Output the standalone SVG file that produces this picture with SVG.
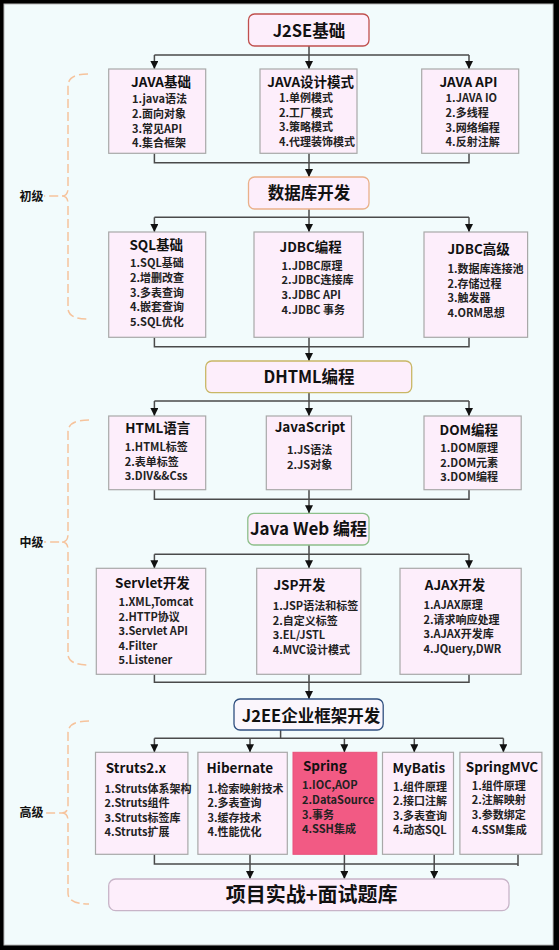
<svg xmlns="http://www.w3.org/2000/svg" width="559" height="950" viewBox="0 0 559 950">
<defs>
<marker id="ah" markerUnits="userSpaceOnUse" markerWidth="8" markerHeight="9" refX="8" refY="4" orient="auto">
<path d="M0,0 L8,4 L0,8 z" fill="#111"/>
</marker>
<style>
text{font-family:"Noto Sans CJK SC","Noto Sans",sans-serif;font-weight:bold;fill:#111}
.t{font-size:13.5px;text-anchor:middle}
.i{font-size:11px;fill:#222}
.h{font-size:16.5px;text-anchor:middle}
.lv{font-size:12px}
.node{fill:#fdeefb;stroke:#a8a8a8;stroke-width:1.2}
.hd{fill:#fdeefb;stroke-width:1.3}
.cn path{fill:none;stroke:#4a4a4a;stroke-width:1.5}
.ar{marker-end:url(#ah)}
.br{fill:none;stroke:#f6c39c;stroke-width:1.5;stroke-dasharray:9 4}
</style>
</defs>
<rect x="0" y="0" width="559" height="950" fill="#000"/>
<rect x="4" y="4" width="549" height="941" fill="#f2fbfc" stroke="#b8b8b8" stroke-width="1"/>

<g id="levels">
<path class="br" d="M88,74 Q68,74 68,86 L68,188 Q68,196 62,196 L44,196 M62,196 Q68,196 68,204 L68,308 Q68,319 88,319"/>
<text class="lv" x="19.5" y="201">初级</text>
<path class="br" d="M89,420 Q68,420 68,432 L68,534 Q68,542 62,542 L44,542 M62,542 Q68,542 68,550 L68,654 Q68,665 89,665"/>
<text class="lv" x="19.5" y="547">中级</text>
<path class="br" d="M89,721 Q68,721 68,733 L68,805 Q68,813 62,813 L44,813 M62,813 Q68,813 68,821 L68,893 Q68,904 89,904"/>
<text class="lv" x="19.5" y="817">高级</text>
</g>

<g id="connectors" class="cn">
<path d="M154.4,55 H469"/>
<path class="ar" d="M154.4,55 V69"/>
<path class="ar" d="M309,46 V69"/>
<path class="ar" d="M469,55 V69"/>
<path d="M154.4,153 V162.7 H469 V153"/>
<path class="ar" d="M309,153 V177"/>

<path d="M154.4,217.3 H469"/>
<path class="ar" d="M154.4,217.3 V232"/>
<path class="ar" d="M309,209 V232"/>
<path class="ar" d="M469,217.3 V232"/>
<path d="M154.4,337.3 V346.7 H469 V337.3"/>
<path class="ar" d="M309,337.3 V361"/>

<path d="M154.4,401 H469"/>
<path class="ar" d="M154.4,401 V416"/>
<path class="ar" d="M309,392.7 V416"/>
<path class="ar" d="M469,401 V416"/>
<path d="M154.4,489.7 V499.3 H469 V489.7"/>
<path class="ar" d="M309,489.7 V513.3"/>

<path d="M154.4,554.3 H469"/>
<path class="ar" d="M154.4,554.3 V568.3"/>
<path class="ar" d="M309,545 V568.3"/>
<path class="ar" d="M469,554.3 V568.3"/>
<path d="M154.4,674.3 V682.3 H469 V674.3"/>
<path class="ar" d="M309,674.3 V699"/>

<path d="M280.6,730 V738.3"/>
<path d="M154.4,738.3 H503.4"/>
<path class="ar" d="M154.4,738.3 V752.3"/>
<path class="ar" d="M250,738.3 V752.3"/>
<path class="ar" d="M344.4,738.3 V752.3"/>
<path class="ar" d="M414.3,738.3 V752.3"/>
<path class="ar" d="M503.4,738.3 V752.3"/>
<path d="M154.4,854.3 V864 H518"/>
<path d="M518,854.3 V866"/>
<path class="ar" d="M250,854.3 V879"/>
<path class="ar" d="M344.4,854.3 V879"/>
<path class="ar" d="M434.2,854.3 V879"/>
</g>

<g id="j2se">
<rect class="hd" x="248.5" y="14" width="120.5" height="32" rx="6" stroke="#c0504d"/>
<text class="h" x="309" y="36.5">J2SE基础</text>
</g>

<g id="java-basic">
<rect class="node" x="108.7" y="69" width="97" height="84.3"/>
<text class="t" x="161" y="86.7">JAVA基础</text>
<text class="i" x="132" y="103.45">1.java语法</text>
<text class="i" x="132" y="118.05">2.面向对象</text>
<text class="i" x="132" y="132.65">3.常见API</text>
<text class="i" x="132" y="147.25">4.集合框架</text>
</g>

<g id="java-pattern">
<rect class="node" x="260" y="69" width="97" height="84.3"/>
<text class="t" x="310.7" y="86.5">JAVA设计模式</text>
<text class="i" x="279" y="102.1">1.单例模式</text>
<text class="i" x="279" y="116.7">2.工厂模式</text>
<text class="i" x="279" y="131.3">3.策略模式</text>
<text class="i" x="279" y="145.9">4.代理装饰模式</text>
</g>

<g id="java-api">
<rect class="node" x="421.7" y="69" width="97" height="84.3"/>
<text class="t" x="468.4" y="86.5">JAVA API</text>
<text class="i" x="445.6" y="102.45">1.JAVA IO</text>
<text class="i" x="445.6" y="117.05">2.多线程</text>
<text class="i" x="445.6" y="131.65">3.网络编程</text>
<text class="i" x="445.6" y="146.25">4.反射注解</text>
</g>

<g id="db">
<rect class="hd" x="248.5" y="177" width="120.5" height="32" rx="6" stroke="#eab08a"/>
<text class="h" x="309" y="199">数据库开发</text>
</g>

<g id="sql">
<rect class="node" x="108.7" y="232" width="97" height="105.3"/>
<text class="t" x="156.2" y="250">SQL基础</text>
<text class="i" x="130" y="267.3">1.SQL基础</text>
<text class="i" x="130" y="281.9">2.增删改查</text>
<text class="i" x="130" y="296.5">3.多表查询</text>
<text class="i" x="130" y="311.1">4.嵌套查询</text>
<text class="i" x="130" y="325.7">5.SQL优化</text>
</g>

<g id="jdbc">
<rect class="node" x="254" y="232" width="109.3" height="105.3"/>
<text class="t" x="310.7" y="251.7">JDBC编程</text>
<text class="i" x="281.6" y="269.75">1.JDBC原理</text>
<text class="i" x="281.6" y="284.35">2.JDBC连接库</text>
<text class="i" x="281.6" y="298.95">3.JDBC API</text>
<text class="i" x="281.6" y="313.55">4.JDBC 事务</text>
</g>

<g id="jdbc-adv">
<rect class="node" x="424" y="232" width="103.6" height="105.3"/>
<text class="t" x="478.6" y="254">JDBC高级</text>
<text class="i" x="447.4" y="273.25">1.数据库连接池</text>
<text class="i" x="447.4" y="287.85">2.存储过程</text>
<text class="i" x="447.4" y="302.45">3.触发器</text>
<text class="i" x="447.4" y="317.05">4.ORM思想</text>
</g>

<g id="dhtml">
<rect class="hd" x="205.7" y="361" width="206" height="31.7" rx="6" stroke="#c9b766"/>
<text class="h" x="309" y="383.3">DHTML编程</text>
</g>

<g id="html">
<rect class="node" x="108.7" y="416" width="97" height="73.7"/>
<text class="t" x="157.8" y="433.3">HTML语言</text>
<text class="i" x="124.8" y="450.9">1.HTML标签</text>
<text class="i" x="124.8" y="465.5">2.表单标签</text>
<text class="i" x="124.8" y="480.1">3.DIV&amp;&amp;Css</text>
</g>

<g id="javascript">
<rect class="node" x="266.3" y="416" width="85.2" height="73.7"/>
<text class="t" x="310" y="431.7">JavaScript</text>
<text class="i" x="287" y="454.3">1.JS语法</text>
<text class="i" x="287" y="469">2.JS对象</text>
</g>

<g id="dom">
<rect class="node" x="424" y="416" width="97.2" height="73.7"/>
<text class="t" x="468.8" y="435">DOM编程</text>
<text class="i" x="440.3" y="451.7">1.DOM原理</text>
<text class="i" x="440.3" y="466.5">2.DOM元素</text>
<text class="i" x="440.3" y="481.2">3.DOM编程</text>
</g>

<g id="javaweb">
<rect class="hd" x="247.8" y="513.3" width="121.2" height="31.7" rx="6" stroke="#8dbf8a"/>
<text class="h" x="308.5" y="535" style="font-size:17px">Java Web 编程</text>
</g>

<g id="servlet">
<rect class="node" x="96.3" y="568.3" width="109.4" height="106"/>
<text class="t" x="152.4" y="588.3">Servlet开发</text>
<text class="i" x="118.4" y="605.95">1.XML,Tomcat</text>
<text class="i" x="118.4" y="620.55">2.HTTP协议</text>
<text class="i" x="118.4" y="635.15">3.Servlet API</text>
<text class="i" x="118.4" y="649.75">4.Filter</text>
<text class="i" x="118.4" y="664.35">5.Listener</text>
</g>

<g id="jsp">
<rect class="node" x="256.7" y="568.3" width="104.1" height="106"/>
<text class="t" x="299.5" y="590">JSP开发</text>
<text class="i" x="272.7" y="610.1">1.JSP语法和标签</text>
<text class="i" x="272.7" y="624.7">2.自定义标签</text>
<text class="i" x="272.7" y="639.3">3.EL/JSTL</text>
<text class="i" x="272.7" y="653.9">4.MVC设计模式</text>
</g>

<g id="ajax">
<rect class="node" x="400" y="568.3" width="121.2" height="106"/>
<text class="t" x="455" y="590">AJAX开发</text>
<text class="i" x="423.5" y="608.95">1.AJAX原理</text>
<text class="i" x="423.5" y="623.55">2.请求响应处理</text>
<text class="i" x="423.5" y="638.15">3.AJAX开发库</text>
<text class="i" x="423.5" y="652.75">4.JQuery,DWR</text>
</g>

<g id="j2ee">
<rect class="hd" x="234" y="699" width="149.2" height="31" rx="6" stroke="#2f4f7f" style="fill:#fbf6fc"/>
<text class="h" x="311" y="722.3">J2EE企业框架开发</text>
</g>

<g id="struts">
<rect class="node" x="95.5" y="752.3" width="92.4" height="102"/>
<text class="t" x="136" y="773.3">Struts2.x</text>
<text class="i" x="104.5" y="792.6">1.Struts体系架构</text>
<text class="i" x="104.5" y="807.2">2.Struts组件</text>
<text class="i" x="104.5" y="821.8">3.Struts标签库</text>
<text class="i" x="104.5" y="836.4">4.Struts扩展</text>
</g>

<g id="hibernate">
<rect class="node" x="197.9" y="752.3" width="89.4" height="102"/>
<text class="t" x="239.8" y="773.3">Hibernate</text>
<text class="i" x="207.5" y="792.6">1.检索映射技术</text>
<text class="i" x="207.5" y="807.2">2.多表查询</text>
<text class="i" x="207.5" y="821.8">3.缓存技术</text>
<text class="i" x="207.5" y="836.4">4.性能优化</text>
</g>

<g id="spring">
<rect x="293" y="752.3" width="83.8" height="102" fill="#f25a84" stroke="#e8507a" stroke-width="1"/>
<text class="t" x="324.8" y="771">Spring</text>
<text class="i" x="302" y="789.4">1.IOC,AOP</text>
<text class="i" x="302" y="804">2.DataSource</text>
<text class="i" x="302" y="818.6">3.事务</text>
<text class="i" x="302" y="833.2">4.SSH集成</text>
</g>

<g id="mybatis">
<rect class="node" x="382.5" y="752.3" width="71" height="102"/>
<text class="t" x="418.8" y="773.3">MyBatis</text>
<text class="i" x="392.9" y="790.6">1.组件原理</text>
<text class="i" x="392.9" y="805.2">2.接口注解</text>
<text class="i" x="392.9" y="819.8">3.多表查询</text>
<text class="i" x="392.9" y="834.4">4.动态SQL</text>
</g>

<g id="springmvc">
<rect class="node" x="459.9" y="752.3" width="82" height="102"/>
<text class="t" x="502" y="771.7">SpringMVC</text>
<text class="i" x="471.7" y="789.75">1.组件原理</text>
<text class="i" x="471.7" y="804.35">2.注解映射</text>
<text class="i" x="471.7" y="818.95">3.参数绑定</text>
<text class="i" x="471.7" y="833.55">4.SSM集成</text>
</g>

<g id="project">
<rect class="hd" x="108.7" y="879" width="400.3" height="31.7" rx="7" stroke="#c8b4c8"/>
<text class="h" x="311.6" y="902" style="font-size:20px">项目实战+面试题库</text>
</g>
</svg>
